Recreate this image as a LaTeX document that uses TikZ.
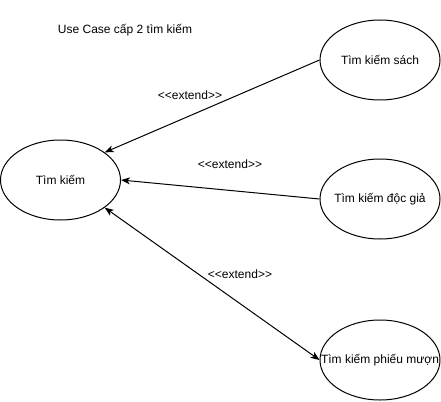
\documentclass[tikz,border=0pt]{standalone}
\usepackage{fontspec}
\setmainfont{Liberation Sans}
\usetikzlibrary{shapes.geometric,arrows.meta}

\tikzset{
	usecase/.style={draw, ellipse, line width=1pt, minimum width=120pt, minimum height=80pt, inner sep=0pt},
	tip/.tip={Stealth[length=9pt, width=7pt, inset=2.5pt]},
	extarrow/.style={line width=1pt, -tip},
	botharrow/.style={line width=1pt, tip-tip},
	lbl/.style={inner sep=0pt, font=\fontsize{12}{14}\selectfont}
}
\newcommand{\extlbl}{{<}{<}extend{>}{>}}

\begin{document}
\begin{tikzpicture}[x=1pt, y=-1pt]
	\useasboundingbox (0, 0) rectangle (441, 401);

	\node [lbl] (title) at (125, 30) {Use Case cấp 2 tìm kiếm};

	\node [usecase, label={[lbl]center:Tìm kiếm}] (timkiem) at (60.5, 180) {};
	\node [usecase, label={[lbl]center:Tìm kiếm sách}] (sach) at (380, 60) {};
	\node [usecase, label={[lbl]center:Tìm kiếm độc giả}] (docgia) at (380, 199) {};
	\node [usecase, label={[lbl]center:Tìm kiếm phiếu mượn}] (phieu) at (380, 360) {};

	\draw [extarrow] (sach.west) -- (timkiem.32);
	\draw [extarrow] (docgia.west) -- (timkiem.east);
	\draw [botharrow] (timkiem.-32) -- (phieu.west);

	\node [lbl] (ext1) at (190, 95) {\extlbl};
	\node [lbl] (ext2) at (230, 164) {\extlbl};
	\node [lbl] (ext3) at (240, 274) {\extlbl};

\end{tikzpicture}
\end{document}
